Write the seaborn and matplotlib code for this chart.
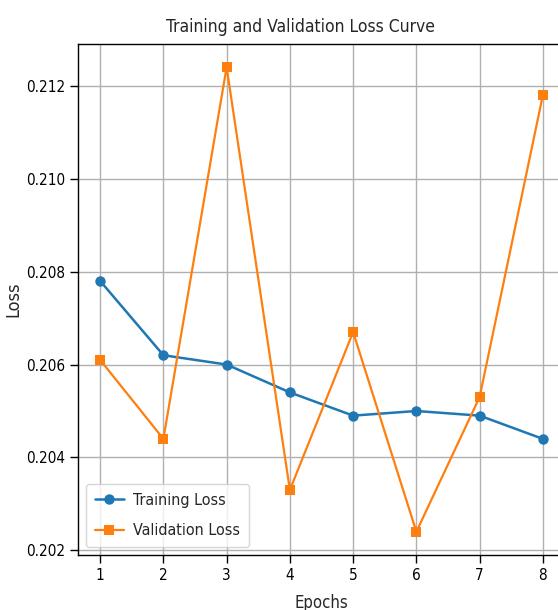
import matplotlib
matplotlib.use("Agg")
import matplotlib.pyplot as plt
import seaborn as sns
import pandas as pd

epochs = [1, 2, 3, 4, 5, 6, 7, 8]
train_loss = [0.2078, 0.2062, 0.2060, 0.2054, 0.2049, 0.2050, 0.2049, 0.2044]
val_loss = [0.2061, 0.2044, 0.2124, 0.2033, 0.2067, 0.2024, 0.2053, 0.2118]
y_ticks = [0.202, 0.204, 0.206, 0.208, 0.210, 0.212]

sns.set_style("ticks")
plt.rcParams['font.family'] = ['DejaVu Sans']
plt.rcParams['font.stretch'] = 'condensed'

df = pd.DataFrame({"Epoch": epochs, "Training Loss": train_loss, "Validation Loss": val_loss})

W, H = 558, 610
fig = plt.figure(figsize=(W / 100, H / 100), dpi=100)
ax = fig.add_axes([78 / W, (H - 555) / H, (565 - 78) / W, (555 - 44) / H])

sns.lineplot(data=df, x="Epoch", y="Training Loss", marker="o", color="#1f77b4",
             linewidth=1.8, markersize=7.5, markeredgewidth=0, label="Training Loss", ax=ax)
sns.lineplot(data=df, x="Epoch", y="Validation Loss", marker="s", color="#ff7f0e",
             linewidth=1.6, markersize=7.5, markeredgewidth=0, label="Validation Loss", ax=ax)

ax.set_xlim(0.65, 8.35)
ax.set_ylim(0.2019, 0.2129)
ax.set_xticks(epochs)
ax.set_yticks(y_ticks)
ax.set_yticklabels([f"{v:.3f}" for v in y_ticks])
ax.grid(True, color="#b0b0b0", linewidth=1)
ax.tick_params(labelsize=11, length=6, width=1, colors="black", pad=3)
for s in ax.spines.values():
    s.set_color("black")
    s.set_linewidth(1)
ax.set_title("Training and Validation Loss Curve", fontsize=12.5, pad=9, x=0.456)
ax.set_xlabel("Epochs", fontsize=12, labelpad=8)
ax.set_ylabel("Loss", fontsize=13)
ax.yaxis.set_label_coords(-0.115, 0.5)
ax.legend(loc="lower left", fontsize=11.5, frameon=True, handlelength=1.8,
          handletextpad=0.6, labelspacing=0.95, borderpad=0.55)

fig.savefig("out.png", dpi=100)
